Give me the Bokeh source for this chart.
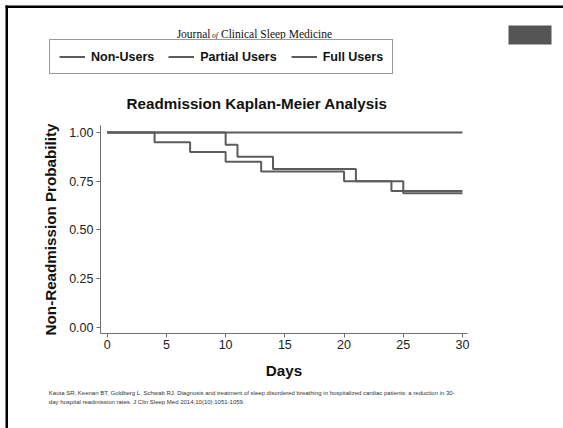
from bokeh.plotting import figure
from bokeh.models import (Range1d, FixedTicker, Label, Legend, LegendItem,
                          BoxAnnotation, NumeralTickFormatter)
from bokeh.embed import file_html
from bokeh.resources import INLINE

# ---- data ----
non_users_days = [0, 4, 7, 10, 13, 20, 24, 30]
non_users_prob = [1.00, 0.95, 0.90, 0.85, 0.80, 0.75, 0.70, 0.70]
partial_users_days = [0, 10, 11, 14, 21, 25, 30]
partial_users_prob = [1.00, 0.9375, 0.875, 0.8125, 0.75, 0.6875, 0.6875]
full_users_days = [0, 30]
full_users_prob = [1.00, 1.00]
series_names = ["Non-Users", "Partial Users", "Full Users"]
x_ticks = [0, 5, 10, 15, 20, 25, 30]
y_ticks = [0.0, 0.25, 0.5, 0.75, 1.0]

journal_parts = ["Journal", "of", "Clinical Sleep Medicine"]
chart_title = "Readmission Kaplan-Meier Analysis"
x_label = "Days"
y_label = "Non-Readmission Probability"
citation_lines = [
    "Kauta SR, Keenan BT, Goldberg L, Schwab RJ. Diagnosis and treatment of sleep disordered breathing in hospitalized cardiac patients: a reduction in 30-",
    "day hospital readmission rates. J Clin Sleep Med 2014;10(10):1051-1059.",
]

SANS = "Liberation Sans"
SERIF = "Liberation Serif"
LINE = "#5c5c5c"
AXIS = "#6e6e6e"

# ---- page layout: the frame fills the whole canvas; axes sit at fixed locations ----
W, H = 563, 428
X0_PX, X_PER_DAY = 106.7, 11.843     # canvas px of day 0, px per day
Y0_PX, Y_PER_UNIT = 326.7, 194.7     # canvas px (from top) of prob 0, px per unit


def dx(px):   # canvas x pixel -> data x
    return (px - X0_PX) / X_PER_DAY


def dy(py):   # canvas y pixel (from top) -> data y
    return (Y0_PX - py) / Y_PER_UNIT


p = figure(width=W, height=H, output_backend="svg", toolbar_location=None,
           x_range=Range1d(dx(0), dx(W)), y_range=Range1d(dy(H), dy(0)),
           min_border=0)
p.outline_line_color = None
p.background_fill_color = "white"
p.border_fill_color = "white"
p.xgrid.visible = False
p.ygrid.visible = False
p.title.visible = False

r1 = p.step(non_users_days, non_users_prob, mode="after", line_color=LINE, line_width=2)
r2 = p.step(partial_users_days, partial_users_prob, mode="after", line_color=LINE, line_width=2)
r3 = p.step(full_users_days, full_users_prob, mode="after", line_color=LINE, line_width=2)

xa, ya = p.xaxis[0], p.yaxis[0]
xa.fixed_location = dy(333)
ya.fixed_location = dx(100)
xa.bounds = (dx(100), dx(467))
ya.bounds = (dy(333), dy(125))
for ax in (xa, ya):
    ax.axis_line_color = AXIS
    ax.axis_line_width = 1
    ax.major_tick_line_color = AXIS
    ax.major_tick_out = 4
    ax.major_tick_in = 0
    ax.minor_tick_out = 0
    ax.minor_tick_in = 0
    ax.major_label_text_font = SANS
    ax.major_label_text_font_size = "12.5px"
    ax.major_label_text_color = "#222222"
    ax.axis_label_text_font = SANS
    ax.axis_label_text_font_size = "15.2px"
    ax.axis_label_text_font_style = "bold"
    ax.axis_label_text_color = "#111111"

xa.ticker = FixedTicker(ticks=x_ticks)
ya.ticker = FixedTicker(ticks=y_ticks)
ya.formatter = NumeralTickFormatter(format="0.00")
xa.axis_label = x_label
ya.axis_label = y_label
xa.major_label_standoff = 2
ya.major_label_standoff = 3
xa.axis_label_standoff = 10
ya.axis_label_standoff = 7

# legend (screen units from the frame's bottom-left)
legend = Legend(
    items=[LegendItem(label=n, renderers=[r]) for n, r in zip(series_names, [r1, r2, r3])],
    orientation="horizontal", location=(49, H - 74), margin=0, padding=9,
    spacing=14, glyph_width=26, glyph_height=15, label_standoff=6,
    label_height=15, label_text_font=SANS, label_text_font_style="bold",
    label_text_font_size="12.5px", label_text_color="#111111",
    border_line_color="#333333", border_line_width=1, background_fill_color="white",
    background_fill_alpha=1)
p.add_layout(legend)

# journal name
p.add_layout(Label(x=dx(210), y=dy(33), text=journal_parts[0], text_font=SERIF,
                   text_font_size="11.5px", text_align="right",
                   text_baseline="middle", text_color="#111111"))
p.add_layout(Label(x=dx(211.5), y=dy(34.5), text=journal_parts[1], text_font=SERIF,
                   text_font_size="7.5px", text_font_style="italic", text_align="left",
                   text_baseline="middle", text_color="#111111"))
p.add_layout(Label(x=dx(220.5), y=dy(33), text=journal_parts[2], text_font=SERIF,
                   text_font_size="11.5px", text_align="left",
                   text_baseline="middle", text_color="#111111"))

# chart title
p.add_layout(Label(x=dx(256.5), y=dy(103), text=chart_title, text_font=SANS,
                   text_font_size="15.2px", text_font_style="bold", text_align="center",
                   text_baseline="middle", text_color="#111111"))

# citation
for i, line in enumerate(citation_lines):
    p.add_layout(Label(x=dx(48.3), y=dy(392.5 + 8.5 * i), text=line, text_font=SANS,
                       text_font_size="6px", text_align="left",
                       text_baseline="alphabetic", text_color="#333333"))

# grey tab at the top right
p.add_layout(BoxAnnotation(left=dx(508), right=dx(551), top=dy(25), bottom=dy(44),
                           fill_color="#555555", fill_alpha=1, line_color=None))
# slide rule along the top and left edges
p.add_layout(BoxAnnotation(left=dx(5), right=dx(W), top=dy(5), bottom=dy(7.5),
                           fill_color="black", fill_alpha=1, line_color=None))
p.add_layout(BoxAnnotation(left=dx(5), right=dx(7.5), top=dy(5), bottom=dy(H),
                           fill_color="black", fill_alpha=1, line_color=None))

open("out.html", "w").write(file_html(p, INLINE))
